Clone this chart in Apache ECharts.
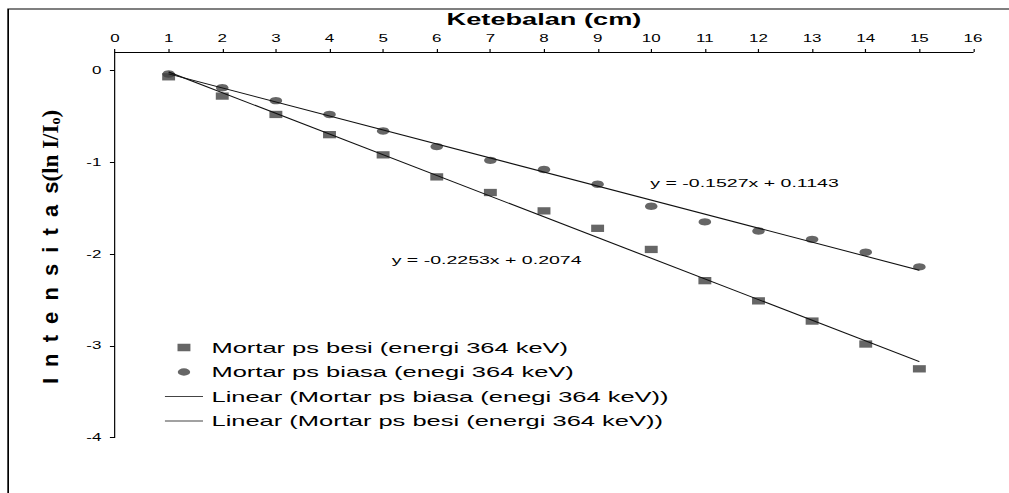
<!DOCTYPE html>
<html><head><meta charset="utf-8">
<script src="https://cdn.jsdelivr.net/npm/echarts@6/dist/echarts.min.js"></script>
<style>
html,body{margin:0;padding:0;background:#fff;overflow:hidden;width:1009px;height:493px;}
#wrap{width:1009px;height:493px;overflow:hidden;}
#chart{width:594px;height:493px;transform:scaleX(1.69865);transform-origin:0 0;}
</style></head><body><div id="wrap"><div id="chart"></div></div>
<script>
// ---- data ----
const thickness = [1, 2, 3, 4, 5, 6, 7, 8, 9, 10, 11, 12, 13, 14, 15];
const besiValues = [-0.07, -0.28, -0.48, -0.70, -0.92, -1.16, -1.33, -1.53, -1.72, -1.95, -2.29, -2.51, -2.73, -2.98, -3.25];
const biasaValues = [-0.04, -0.19, -0.33, -0.48, -0.66, -0.83, -0.98, -1.08, -1.24, -1.48, -1.65, -1.75, -1.84, -1.98, -2.14];
const yTickValues = [0, -1, -2, -3, -4];
const trendX = [1, 15];
const trendBiasaY = [-0.0384, -2.1762];   // y = -0.1527x + 0.1143
const trendBesiY = [-0.0179, -3.1721];    // y = -0.2253x + 0.2074
const eqBiasa = 'y = -0.1527x + 0.1143';
const eqBesi = 'y = -0.2253x + 0.2074';
const nameBesi = 'Mortar ps besi (energi 364 keV)';
const nameBiasa = 'Mortar ps biasa (enegi 364 keV)';
const nameLinBiasa = 'Linear (Mortar ps biasa (enegi 364 keV))';
const nameLinBesi = 'Linear (Mortar ps besi (energi 364 keV))';
const xTitle = 'Ketebalan (cm)';
const yTitleWord = 'Intensitas';
const yTitleUnit = ['(ln I/I', 'o', ')'];

const SX = 1009 / 594;
const FONT = '"Liberation Sans", Arial, sans-serif';
const SERIF = '"Liberation Serif", "Times New Roman", serif';
const MARK = '#404040';
const pts = (xs, ys) => xs.map((x, i) => [x, ys[i]]);

const iconSquare = 'path://M0,0L0.01,0L0,0.01Z M22.4,14L22.39,14L22.4,13.99Z M7.4,3.35L15,3.35L15,10.65L7.4,10.65Z';
const iconCircle = 'path://M0,0L0.01,0L0,0.01Z M22.4,14L22.39,14L22.4,13.99Z M14.85,7A3.65,3.65 0 1 1 7.55,7A3.65,3.65 0 1 1 14.85,7Z';
const iconLine = 'path://M0,0L0.01,0L0,0.01Z M22.4,14L22.39,14L22.4,13.99Z M0,6.5L22.4,6.5L22.4,7.5L0,7.5Z';

const yTitleRich = yTitleWord.split('').map(ch => '{a|' + ch + '}').join('{g| }') +
  '{b|' + yTitleUnit[0] + '}{c|' + yTitleUnit[1] + '}{b|' + yTitleUnit[2] + '}';

const chart = echarts.init(document.getElementById('chart'), null, {renderer: 'svg'});
chart.setOption({
  animation: false,
  backgroundColor: '#fff',
  graphic: [{
    type: 'rect', silent: true, x: 4.8, y: 9,
    shape: {width: 800, height: 700},
    style: {fill: 'none', stroke: '#000', lineWidth: 1}
  }, {
    type: 'text', silent: true, x: 29.8, y: 247, rotation: Math.PI / 2, scaleY: 1 / SX,
    style: {
      text: yTitleRich, align: 'center', verticalAlign: 'middle', fill: '#000',
      rich: {
        a: {fontFamily: FONT, fontSize: 22, fontWeight: 'bold', fill: '#000'},
        g: {fontFamily: FONT, fontSize: 40, fontWeight: 'bold', lineHeight: 22},
        b: {fontFamily: SERIF, fontSize: 23, fontWeight: 'bold', fill: '#000'},
        c: {fontFamily: SERIF, fontSize: 14, fontWeight: 'bold', fill: '#000', verticalAlign: 'bottom'}
      }
    }
  }],
  grid: {left: 67.7, right: 21.2, top: 52, bottom: 55.3, containLabel: false},
  xAxis: {
    type: 'value', position: 'top', min: 0, max: 16, interval: 1,
    name: xTitle, nameLocation: 'middle', nameGap: 18,
    nameTextStyle: {fontFamily: FONT, fontSize: 16, fontWeight: 'bold', color: '#000'},
    axisLine: {onZero: false, lineStyle: {color: '#000', width: 1}},
    axisTick: {show: true, inside: false, length: 3, lineStyle: {color: '#000', width: 0.7}},
    axisLabel: {fontFamily: FONT, fontSize: 10, color: '#000', margin: 9},
    splitLine: {show: false}
  },
  yAxis: {
    type: 'value', min: -4, max: 0.2,
    axisLine: {onZero: false, lineStyle: {color: '#000', width: 0.7}},
    axisTick: {show: true, inside: false, length: 3, customValues: yTickValues, lineStyle: {color: '#000', width: 1}},
    axisLabel: {fontFamily: FONT, fontSize: 10, color: '#000', margin: 8, customValues: yTickValues},
    splitLine: {show: false}
  },
  legend: {
    orient: 'vertical', left: 97.1, top: 340, padding: 0,
    itemWidth: 22.4, itemHeight: 14, itemGap: 9.5,
    textStyle: {fontFamily: FONT, fontSize: 15, color: '#000'},
    selectedMode: false,
    data: [
      {name: nameBesi, icon: iconSquare},
      {name: nameBiasa, icon: iconCircle},
      {name: nameLinBiasa, icon: iconLine},
      {name: nameLinBesi, icon: iconLine}
    ]
  },
  series: [
    {name: nameBesi, type: 'scatter', symbol: 'rect', symbolSize: [7.6, 7.3],
     itemStyle: {color: MARK}, data: pts(thickness, besiValues), z: 2},
    {name: nameBiasa, type: 'scatter', symbol: 'circle', symbolSize: 7.4,
     itemStyle: {color: MARK}, data: pts(thickness, biasaValues), z: 2},
    {name: nameLinBiasa, type: 'line', symbol: 'none', silent: true,
     lineStyle: {color: '#111', width: 1}, itemStyle: {color: '#444'},
     data: pts(trendX, trendBiasaY), z: 3,
     markPoint: {symbol: 'rect', symbolSize: 0, silent: true,
       label: {show: true, position: 'inside', formatter: eqBiasa, fontFamily: FONT, fontSize: 11.5, color: '#000'},
       data: [{coord: [11.74, -1.222]}]}},
    {name: nameLinBesi, type: 'line', symbol: 'none', silent: true,
     lineStyle: {color: '#111', width: 1}, itemStyle: {color: '#444'},
     data: pts(trendX, trendBesiY), z: 3,
     markPoint: {symbol: 'rect', symbolSize: 0, silent: true,
       label: {show: true, position: 'inside', formatter: eqBesi, fontFamily: FONT, fontSize: 11.5, color: '#000'},
       data: [{coord: [6.93, -2.067]}]}}
  ]
});
</script></body></html>
